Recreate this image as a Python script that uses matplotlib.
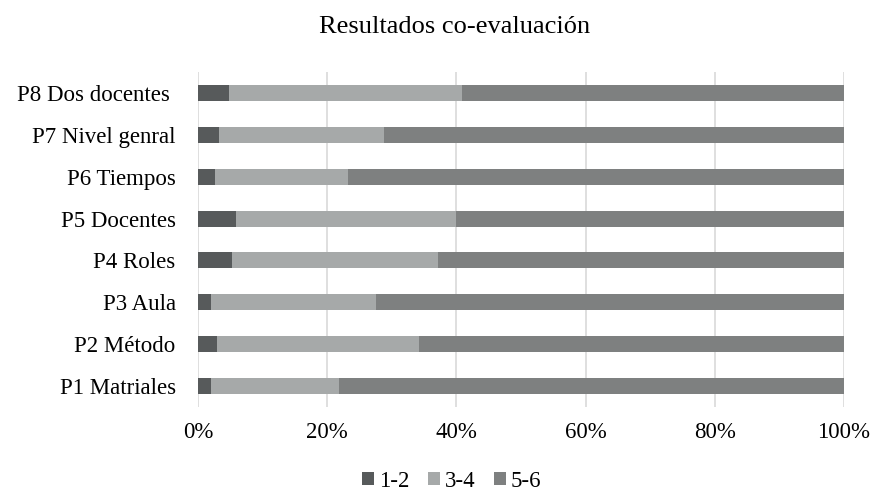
import matplotlib
matplotlib.use("Agg")
from matplotlib import pyplot as plt
from matplotlib.ticker import PercentFormatter

plt.rcParams['font.family'] = ['Liberation Serif', 'DejaVu Serif']

preguntas = ['P1 Matriales', 'P2 Método', 'P3 Aula', 'P4 Roles',
             'P5 Docentes', 'P6 Tiempos', 'P7 Nivel genral', 'P8 Dos docentes ']
# porcentaje de respuestas por rango
bajo = [2.0, 2.9, 2.0, 5.2, 5.9, 2.7, 3.3, 4.8]
medio = [19.9, 31.3, 25.5, 32.0, 34.1, 20.6, 25.5, 36.0]
alto = [100 - b - m for b, m in zip(bajo, medio)]

colores = ['#575A5B', '#A6A9A9', '#7E8080']
series = [('1-2', bajo), ('3-4', medio), ('5-6', alto)]

fig = plt.figure(figsize=(8.74, 4.93), dpi=100)
ax = fig.add_axes([0.2265, 0.1744, 0.7392, 0.6796])

izq = [0] * len(preguntas)
for (nombre, valores), color in zip(series, colores):
    ax.barh(preguntas, valores, left=izq, height=0.38, color=color, label=nombre)
    izq = [a + b for a, b in zip(izq, valores)]

ax.set_xlim(0, 100)
ax.set_ylim(-0.5, len(preguntas) - 0.5)
ax.set_xticks(range(0, 101, 20))
ax.xaxis.set_major_formatter(PercentFormatter(decimals=0))
ax.grid(axis='x', color='#D9D9D9', linewidth=1.2)
ax.set_axisbelow(True)
for s in ax.spines.values():
    s.set_visible(False)
ax.tick_params(length=0, labelsize=16.5, colors='black')
ax.tick_params(axis='x', pad=11)
ax.tick_params(axis='y', pad=16)

fig.suptitle('Resultados co-evaluación', x=0.52, y=0.968, fontsize=19)
ax.legend(loc='upper center', bbox_to_anchor=(0.393, -0.142), ncol=3, frameon=False,
          fontsize=16.5, handlelength=0.52, handleheight=0.52, handletextpad=0.22,
          columnspacing=0.8, borderpad=0.2)

fig.savefig('out.png', dpi=100)
